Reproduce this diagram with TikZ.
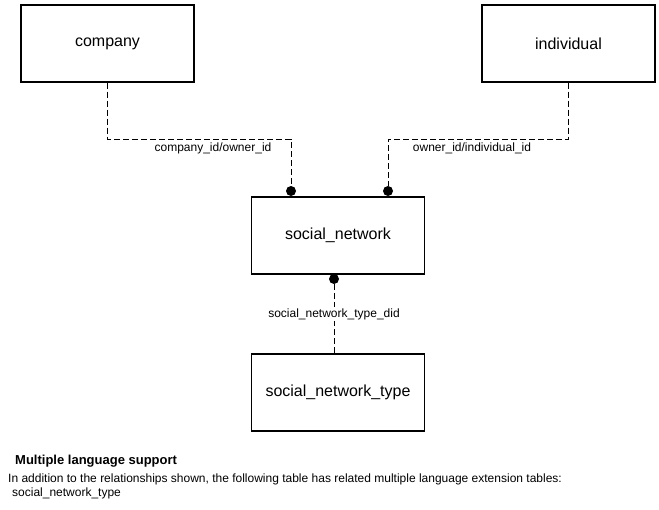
\documentclass[tikz,border=0pt]{standalone}
\usepackage{fontspec}
\setmainfont{Liberation Sans}

\begin{document}
\begin{tikzpicture}[
    x=1pt, y=-1pt,
    table/.style={draw, line width=1.2pt, minimum width=173pt, minimum height=77pt,
      inner sep=0pt, font=\fontsize{16}{19}\selectfont},
    rel/.style={dash pattern=on 6pt off 3pt, line width=0.9pt},
    key/.style={inner sep=0pt, font=\fontsize{12}{14}\selectfont},
    dot/.style={circle, fill, inner sep=0pt, minimum size=10pt},
    note/.style={anchor=west, inner sep=0pt, font=\fontsize{12}{14}\selectfont}
  ]
  \useasboundingbox (0,0) rectangle (659,510);
  % tables
  \node (company) [table] at (107.5,43.5) {company};
  \node (individual) [table] at (568.5,43.5) {individual};
  \node (socialnet) [table] at (338,235.5) {social\_network};
  \node (socialnettype) [table] at (338,392.5) {social\_network\_type};
  % relationship ends
  \node (cdot) [dot] at (291,191) {};
  \node (idot) [dot] at (388,191) {};
  \node (tdot) [dot] at (334,279) {};
  \coordinate (cturn) at (291,139);
  \coordinate (iturn) at (388,139);
  \draw[rel] (company.south) |- (cturn) -- (cdot.north);
  \draw[rel] (individual.south) |- (iturn) -- (idot.north);
  \draw[rel] (tdot.south) -- (tdot.south |- socialnettype.north);
  % keys
  \node (ckey) [key] at (213,148) {company\_id/owner\_id};
  \node (ikey) [key] at (472,148) {owner\_id/individual\_id};
  \node (tkey) [key, fill=white, inner sep=1pt] at (334,314) {social\_network\_type\_did};
  % footnote
  \node (mlhead) [note, font=\bfseries\fontsize{13}{15}\selectfont] at (15,461) {Multiple language support};
  \node (mltext) [note] at (8,479) {In addition to the relationships shown, the following table has related multiple language extension tables:};
  \node (mltable) [note] at (12,493) {social\_network\_type};
\end{tikzpicture}
\end{document}
